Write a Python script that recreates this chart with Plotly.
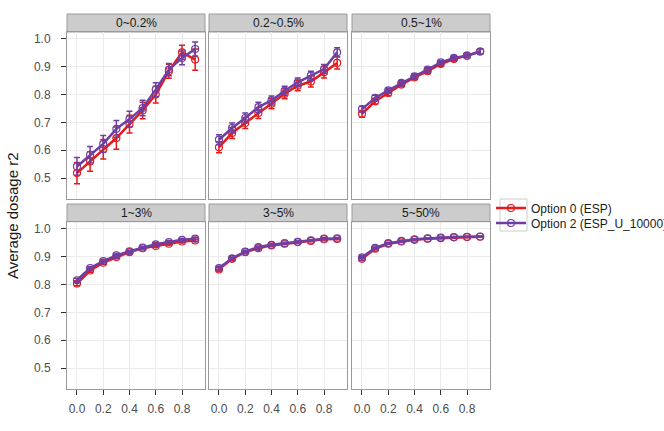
import plotly.graph_objects as go
from plotly.subplots import make_subplots

x_vals = [0.0, 0.1, 0.2, 0.3, 0.4, 0.5, 0.6, 0.7, 0.8, 0.9]
panels = ["0~0.2%", "0.2~0.5%", "0.5~1%", "1~3%", "3~5%", "5~50%"]
series_names = ["Option 0 (ESP)", "Option 2 (ESP_U_10000)"]

opt0 = [
    [0.518, 0.560, 0.604, 0.644, 0.694, 0.743, 0.800, 0.884, 0.952, 0.926],
    [0.611, 0.662, 0.698, 0.734, 0.767, 0.803, 0.832, 0.847, 0.880, 0.914],
    [0.731, 0.776, 0.806, 0.836, 0.862, 0.884, 0.910, 0.928, 0.940, 0.955],
    [0.803, 0.850, 0.878, 0.898, 0.916, 0.930, 0.938, 0.946, 0.954, 0.958],
    [0.854, 0.892, 0.916, 0.930, 0.940, 0.946, 0.952, 0.956, 0.962, 0.963],
    [0.892, 0.928, 0.946, 0.954, 0.960, 0.964, 0.966, 0.969, 0.970, 0.971],
]
opt2 = [
    [0.542, 0.584, 0.623, 0.677, 0.712, 0.752, 0.818, 0.890, 0.932, 0.964],
    [0.638, 0.680, 0.716, 0.755, 0.779, 0.814, 0.844, 0.868, 0.892, 0.952],
    [0.748, 0.788, 0.815, 0.842, 0.866, 0.890, 0.916, 0.932, 0.940, 0.955],
    [0.815, 0.859, 0.884, 0.904, 0.919, 0.932, 0.944, 0.952, 0.960, 0.964],
    [0.859, 0.894, 0.918, 0.934, 0.942, 0.948, 0.953, 0.958, 0.964, 0.965],
    [0.897, 0.931, 0.948, 0.956, 0.962, 0.965, 0.968, 0.970, 0.971, 0.972],
]
err0 = [
    [0.038, 0.035, 0.035, 0.040, 0.032, 0.030, 0.030, 0.025, 0.025, 0.038],
    [0.020, 0.020, 0.020, 0.020, 0.018, 0.018, 0.018, 0.020, 0.020, 0.022],
    [0.012, 0.010, 0.010, 0.008, 0.008, 0.008, 0.008, 0.006, 0.006, 0.010],
    [0.008, 0.006, 0.006, 0.005, 0.005, 0.005, 0.004, 0.004, 0.004, 0.004],
    [0.006, 0.005, 0.004, 0.004, 0.004, 0.003, 0.003, 0.003, 0.003, 0.003],
    [0.005, 0.004, 0.003, 0.003, 0.003, 0.003, 0.002, 0.002, 0.002, 0.002],
]
err2 = [
    [0.032, 0.030, 0.030, 0.030, 0.028, 0.028, 0.025, 0.022, 0.025, 0.025],
    [0.018, 0.018, 0.018, 0.018, 0.016, 0.016, 0.016, 0.016, 0.016, 0.016],
    [0.010, 0.010, 0.008, 0.008, 0.008, 0.008, 0.006, 0.006, 0.006, 0.010],
    [0.007, 0.005, 0.005, 0.004, 0.004, 0.004, 0.004, 0.004, 0.004, 0.004],
    [0.005, 0.004, 0.004, 0.003, 0.003, 0.003, 0.003, 0.003, 0.003, 0.003],
    [0.004, 0.003, 0.003, 0.003, 0.002, 0.002, 0.002, 0.002, 0.002, 0.002],
]
x_ticks = [0.0, 0.2, 0.4, 0.6, 0.8]
y_ticks = [0.5, 0.6, 0.7, 0.8, 0.9, 1.0]

colors = ["#E41A1C", "#6E3FA3"]
W, H = 664, 431
FONT = "Liberation Sans, Arial, sans-serif"

col_px = [(67, 205), (209, 347), (352, 490)]
row_px = [(32, 199), (221.7, 389)]
strip_px = [(14, 32), (204, 221.7)]
legend_names = ["legend", "legend2"]

fig = make_subplots(rows=2, cols=3)

for i, name in enumerate(panels):
    r, c = i // 3 + 1, i % 3 + 1
    for s, (vals, errs) in enumerate([(opt0[i], err0[i]), (opt2[i], err2[i])]):
        fig.add_trace(go.Scatter(
            x=x_vals, y=vals, mode="lines+markers",
            name=series_names[s], legendgroup=series_names[s], showlegend=(i == 0),
            legend=legend_names[s],
            line=dict(color=colors[s], width=2.5),
            marker=dict(symbol="circle-open", size=7, color=colors[s], line=dict(width=1.2)),
            error_y=dict(type="data", array=errs, color=colors[s], thickness=1.5, width=3),
        ), row=r, col=c)

axfont = dict(family=FONT, size=12, color="#4d4d4d")
for i in range(6):
    r, c = i // 3, i % 3
    x0, x1 = col_px[c]
    y0, y1 = row_px[r]
    fig.update_xaxes(
        domain=[x0 / W, x1 / W], range=[-0.076, 0.975], tickvals=x_ticks,
        ticktext=[f"{v:.1f}" for v in x_ticks], showticklabels=(r == 1),
        ticks="outside" if r == 1 else "", ticklen=5, tickcolor="#333333",
        ticklabelstandoff=4,
        tickfont=axfont, showgrid=True, gridcolor="#ebebeb", gridwidth=1,
        showline=True, mirror=True, linecolor="#9a9a9a", linewidth=1, zeroline=False,
        row=r + 1, col=c + 1)
    fig.update_yaxes(
        domain=[1 - y1 / H, 1 - y0 / H], range=[0.425, 1.025], tickvals=y_ticks,
        ticktext=[f"{v:.1f}" for v in y_ticks], showticklabels=(c == 0),
        ticks="outside" if c == 0 else "", ticklen=5, tickcolor="#333333",
        ticklabelstandoff=8,
        tickfont=axfont, showgrid=True, gridcolor="#ebebeb", gridwidth=1,
        showline=True, mirror=True, linecolor="#9a9a9a", linewidth=1, zeroline=False,
        row=r + 1, col=c + 1)
    sy0, sy1 = strip_px[r]
    fig.add_shape(type="rect", xref="paper", yref="paper",
                  x0=x0 / W, x1=x1 / W, y0=1 - sy1 / H, y1=1 - sy0 / H,
                  fillcolor="#cccccc", line=dict(color="#9a9a9a", width=1), layer="below")
    fig.add_annotation(text=panels[i], xref="paper", yref="paper",
                       x=(x0 + x1) / 2 / W, y=1 - (sy0 + sy1) / 2 / H,
                       showarrow=False, xanchor="center", yanchor="middle",
                       font=dict(family=FONT, size=12, color="#1a1a1a"))

fig.add_annotation(text="Average dosage r2", xref="paper", yref="paper",
                   x=12 / W, y=1 - 216 / H, textangle=-90, showarrow=False,
                   xanchor="center", yanchor="middle",
                   font=dict(family=FONT, size=15, color="#1a1a1a"))

# legend key box
fig.add_shape(type="rect", xref="paper", yref="paper",
              x0=500 / W, x1=527 / W, y0=1 - 231 / H, y1=1 - 199 / H,
              fillcolor="white", line=dict(color="#cccccc", width=1), layer="below")

legfont = dict(family=FONT, size=12, color="#1a1a1a")
fig.update_layout(
    width=W, height=H, margin=dict(l=0, r=0, t=0, b=0, autoexpand=False),
    plot_bgcolor="white", paper_bgcolor="white",
    showlegend=True,
    legend=dict(x=491 / W, y=1 - 208 / H, xanchor="left", yanchor="middle",
                font=legfont, bgcolor="rgba(0,0,0,0)"),
    legend2=dict(x=491 / W, y=1 - 223 / H, xanchor="left", yanchor="middle",
                 font=legfont, bgcolor="rgba(0,0,0,0)"),
)

fig.write_html("out.html")
